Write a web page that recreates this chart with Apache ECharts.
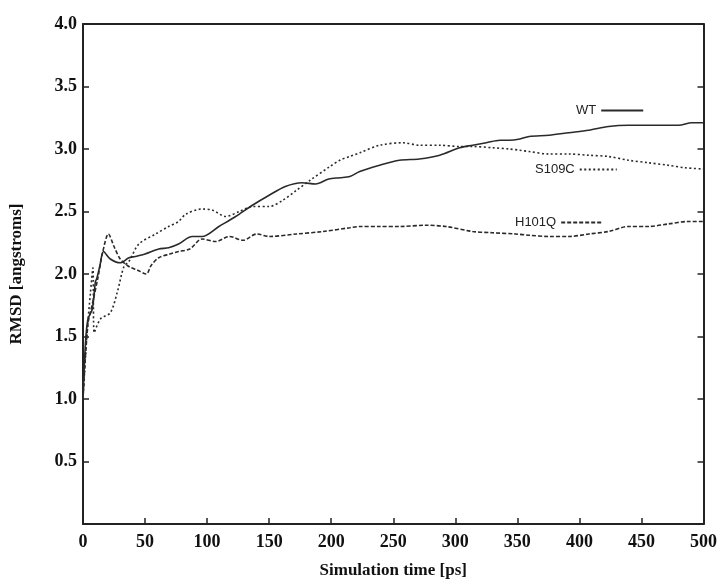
<!DOCTYPE html>
<html>
<head>
<meta charset="utf-8">
<script src="https://cdn.jsdelivr.net/npm/echarts@6/dist/echarts.min.js"></script>
<style>html,body{margin:0;padding:0;background:#fff}#c{width:720px;height:584px}</style>
</head>
<body>
<div id="c"></div>
<script>
// ---- data (simulation time in ps, RMSD in angstroms) ----
var seriesNames = ['WT', 'S109C', 'H101Q'];
var xTicks = [0, 50, 100, 150, 200, 250, 300, 350, 400, 450, 500];
var yTicks = [0, 0.5, 1.0, 1.5, 2.0, 2.5, 3.0, 3.5, 4.0];

var timeWT = [0, 2, 4, 7.5, 10, 11, 13.5, 16.5, 22, 30, 37, 42, 50, 61, 69, 77, 88, 96, 109.5, 123, 136.5, 150, 163, 176.5, 187.5, 198, 207, 215, 223, 239, 255, 271, 287.5, 303.5, 314, 325, 336, 343.5, 352, 359.5, 375.5, 391.5, 407.5, 423.5, 439.5, 455.5, 480, 490.5, 500];
var rmsdWT = [1.0, 1.45, 1.64, 1.72, 1.94, 1.96, 2.06, 2.18, 2.12, 2.09, 2.13, 2.14, 2.16, 2.20, 2.21, 2.24, 2.30, 2.30, 2.38, 2.46, 2.55, 2.63, 2.70, 2.73, 2.72, 2.76, 2.77, 2.78, 2.82, 2.87, 2.91, 2.92, 2.95, 3.01, 3.03, 3.05, 3.07, 3.07, 3.08, 3.10, 3.11, 3.13, 3.15, 3.18, 3.19, 3.19, 3.19, 3.21, 3.21];

var timeS109C = [0, 3, 6, 8, 9, 14, 22, 27.5, 33, 37, 45, 58.5, 69, 77, 83, 96, 104.5, 115, 126, 136.5, 150, 161, 172, 183, 199, 207, 215, 223, 239, 258, 271, 287.5, 303.5, 314, 330, 343.5, 352, 359.5, 375.5, 391.5, 407.5, 423.5, 439.5, 455.5, 471.5, 485, 500];
var rmsdS109C = [1.0, 1.5, 1.85, 2.05, 1.53, 1.64, 1.69, 1.85, 2.06, 2.10, 2.24, 2.32, 2.38, 2.42, 2.48, 2.52, 2.51, 2.46, 2.50, 2.54, 2.54, 2.59, 2.67, 2.75, 2.86, 2.91, 2.94, 2.97, 3.03, 3.05, 3.03, 3.03, 3.02, 3.02, 3.01, 3.00, 2.99, 2.98, 2.96, 2.96, 2.95, 2.94, 2.91, 2.89, 2.87, 2.85, 2.84];

var timeH101Q = [0, 4, 8, 12, 16, 20.5, 25, 30, 37, 44, 51, 55, 61, 70, 77, 86, 96, 107, 118, 129, 140, 150, 172, 193.5, 215, 223, 239, 255, 276.5, 292.5, 314, 330, 348.5, 359.5, 375.5, 391.5, 407.5, 423.5, 439.5, 455.5, 471.5, 487.5, 500];
var rmsdH101Q = [1.0, 1.6, 1.78, 1.97, 2.18, 2.32, 2.22, 2.12, 2.06, 2.03, 2.0, 2.07, 2.13, 2.16, 2.18, 2.20, 2.28, 2.26, 2.30, 2.27, 2.32, 2.30, 2.32, 2.34, 2.37, 2.38, 2.38, 2.38, 2.39, 2.38, 2.34, 2.33, 2.32, 2.31, 2.30, 2.30, 2.32, 2.34, 2.38, 2.38, 2.40, 2.42, 2.42];

function pairs(t, v) { return t.map(function (x, i) { return [x, v[i]]; }); }

var lineColor = '#2a2a2a';
var serif = '"Liberation Serif", "Times New Roman", serif';
var sans = '"Liberation Sans", Arial, sans-serif';

var chart = echarts.init(document.getElementById('c'), null, { renderer: 'canvas' });

function legendFor(name, left, top, width) {
  return {
    data: [name], left: left, top: top, align: 'right', orient: 'horizontal',
    itemWidth: width, itemHeight: 12, itemGap: 0, selectedMode: false,
    itemStyle: { opacity: 0 },
    textStyle: { fontFamily: sans, fontSize: 13, color: '#222' }
  };
}

chart.setOption({
  animation: false,
  backgroundColor: '#fff',
  grid: { left: 82, right: 15, top: 24, bottom: 59 },
  legend: [
    legendFor('WT', 571, 99, 42),
    legendFor('S109C', 530, 158, 37),
    legendFor('H101Q', 510, 211, 40)
  ],
  xAxis: [{
    type: 'value', min: 0, max: 500, interval: 50,
    name: 'Simulation time [ps]', nameLocation: 'middle', nameGap: 38,
    nameTextStyle: { fontFamily: serif, fontWeight: 'bold', fontSize: 17, color: '#111' },
    axisLine: { show: true, onZero: false, lineStyle: { color: '#222', width: 2 } },
    axisTick: { show: true, inside: true, length: 6, lineStyle: { color: '#222', width: 1.5 } },
    axisLabel: { fontFamily: serif, fontWeight: 'bold', fontSize: 18, color: '#111', margin: 9,
      formatter: function (v) { return xTicks.indexOf(v) >= 0 ? String(v) : ''; } },
    splitLine: { show: false }
  }, {
    type: 'value', min: 0, max: 500, interval: 50, position: 'top',
    axisLine: { show: true, onZero: false, lineStyle: { color: '#222', width: 2 } },
    axisTick: { show: false }, axisLabel: { show: false }, splitLine: { show: false }
  }],
  yAxis: [{
    type: 'value', min: 0, max: 4, interval: 0.5,
    name: 'RMSD [angstroms]', nameLocation: 'middle', nameGap: 58,
    nameTextStyle: { fontFamily: serif, fontWeight: 'bold', fontSize: 17, color: '#111' },
    axisLine: { show: true, onZero: false, lineStyle: { color: '#222', width: 2 } },
    axisTick: { show: true, inside: true, length: 6, lineStyle: { color: '#222', width: 1.5 } },
    axisLabel: { fontFamily: serif, fontWeight: 'bold', fontSize: 18, color: '#111', margin: 6,
      formatter: function (v) { return (v === 0 || yTicks.indexOf(v) < 0) ? '' : v.toFixed(1); } },
    splitLine: { show: false }
  }, {
    type: 'value', min: 0, max: 4, interval: 0.5, position: 'right',
    axisLine: { show: true, onZero: false, lineStyle: { color: '#222', width: 2 } },
    axisTick: { show: true, inside: true, length: 6, lineStyle: { color: '#222', width: 1.5 } },
    axisLabel: { show: false }, splitLine: { show: false }
  }],
  series: [
    { name: seriesNames[0], type: 'line', data: pairs(timeWT, rmsdWT), symbol: 'none', smooth: 0.3,
      lineStyle: { color: lineColor, width: 1.6, type: 'solid' }, itemStyle: { color: lineColor } },
    { name: seriesNames[1], type: 'line', data: pairs(timeS109C, rmsdS109C), symbol: 'none', smooth: 0.3,
      lineStyle: { color: lineColor, width: 1.6, type: [2, 2.5] }, itemStyle: { color: lineColor } },
    { name: seriesNames[2], type: 'line', data: pairs(timeH101Q, rmsdH101Q), symbol: 'none', smooth: 0.3,
      lineStyle: { color: lineColor, width: 1.6, type: [4, 2] }, itemStyle: { color: lineColor } }
  ]
});
</script>
</body>
</html>
